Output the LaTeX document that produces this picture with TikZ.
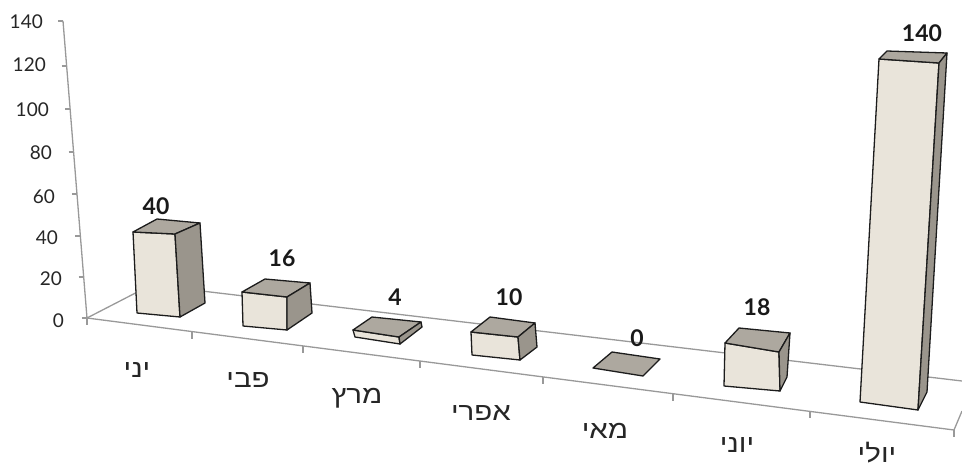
\documentclass[tikz,border=0pt]{standalone}
\usepackage{fontspec}
\setmainfont{Lato}
\newfontfamily\hebfont[Script=Hebrew,FakeStretch=1.18]{Liberation Sans}
\TeXXeTstate=1
\definecolor{frontc}{HTML}{E9E4DA}
\definecolor{topc}{HTML}{ADA89F}
\definecolor{sidec}{HTML}{9A958C}
\definecolor{axisc}{HTML}{999999}
\definecolor{edgec}{HTML}{1C1C1C}
\newcommand\barbox[7]{%
  \draw[face,fill=frontc] #1 -- #2 -- #3 -- #4 -- cycle;
  \draw[face,fill=topc] #1 -- #5 -- #6 -- #2 -- cycle;
  \draw[face,fill=sidec] #2 -- #6 -- #7 -- #3 -- cycle;}
\begin{document}
\begin{tikzpicture}[x=1pt,y=-1pt,
  face/.style={draw=edgec,line width=1.3pt,line join=round},
  axl/.style={draw=axisc,line width=1.3pt},
  ax/.style={font=\fontsize{19}{19}\selectfont,text=black!85,inner sep=0pt,anchor=east},
  val/.style={font=\fontsize{23}{23}\selectfont\bfseries,text=black!90,inner sep=0pt},
  cat/.style={font=\hebfont\fontsize{25}{25}\selectfont,text=black!85,inner sep=0pt,anchor=base}]
\useasboundingbox (0,0) rectangle (962,472);
% vertical axis
\coordinate (atop) at (63,21);
\coordinate (abot) at (87,318);
\draw[axl] (atop) -- (abot);
\foreach \yy in {21,66,109,152,194,236,277,318}{
  \draw[axl] ({63+(\yy-21)*0.0808-5},\yy) -- ({63+(\yy-21)*0.0808},\yy);}
% floor
\coordinate (fl) at (87,318);
\coordinate (fr) at (954,430);
\coordinate (bl) at (151,285);
\coordinate (br) at (962,381);
\coordinate (rr) at (962,411);
\draw[axl] (fl) -- (fr) -- (rr);
\draw[axl] (fl) -- (bl) -- (br);
\foreach \xx in {87,192,303,420,543,673,810,954}{
  \draw[axl] (\xx,{318+0.1293*(\xx-87)}) -- (\xx,{318+0.1293*(\xx-87)+7});}
% bars
\barbox{(133,232)}{(175,234)}{(180,317)}{(137,313)}{(157,219)}{(200,223)}{(205,303)}
\barbox{(242,292)}{(287,297)}{(287,330)}{(243,326)}{(265,279)}{(310,283)}{(312,313)}
\barbox{(353,330)}{(399,337)}{(400,344)}{(355,337)}{(372,317)}{(421,322)}{(422,327)}
\barbox{(471,332)}{(518,337)}{(520,360)}{(472,355)}{(490,317)}{(535,323)}{(537,347)}
\draw[face,fill=topc] (593,368) -- (643,376) -- (660,359) -- (612,352) -- cycle;
\barbox{(725,343)}{(779,352)}{(780,391)}{(724,386)}{(739,328)}{(790,333)}{(787,377)}
\barbox{(879,59)}{(939,63)}{(918,410)}{(860,402)}{(887,51)}{(947,53)}{(927,392)}
% axis labels
\node[ax] (l140) at (43,22) {140};
\node[ax] (l120) at (46,65) {120};
\node[ax] (l100) at (49,110) {100};
\node[ax] (l80) at (52,153) {80};
\node[ax] (l60) at (55,197) {60};
\node[ax] (l40) at (58,238) {40};
\node[ax] (l20) at (62,279) {20};
\node[ax] (l0) at (64,321) {0};
% value labels
\node[val] (v1) at (156,206) {40};
\node[val] (v2) at (282,258) {16};
\node[val] (v3) at (395,297) {4};
\node[val] (v4) at (509,297) {10};
\node[val] (v5) at (637,338) {0};
\node[val] (v6) at (757,307) {18};
\node[val] (v7) at (922,33) {140};
% category labels
\node[cat] (c1) at (137,377) {\beginR יני\endR};
\node[cat] (c2) at (248,387) {\beginR פבי\endR};
\node[cat] (c3) at (357,403) {\beginR מרץ\endR};
\node[cat] (c4) at (481,420) {\beginR אפרי\endR};
\node[cat] (c5) at (605,438) {\beginR מאי\endR};
\node[cat] (c6) at (737,452) {\beginR יוני\endR};
\node[cat] (c7) at (877,462) {\beginR יולי\endR};
\end{tikzpicture}
\end{document}
